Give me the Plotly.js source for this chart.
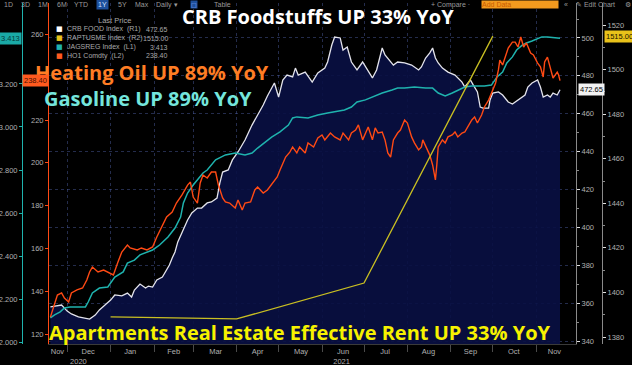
<!DOCTYPE html>
<html><head><meta charset="utf-8">
<script src="https://cdn.plot.ly/plotly-3.0.1.min.js"></script>
<style>html,body{margin:0;padding:0;background:#000;}#chart{width:632px;height:365px;}</style>
</head><body><div id="chart"></div>
<script>
// ---------- DATA ----------
const crbDates = ['2020-11-19','2020-11-23','2020-11-27','2020-12-01','2020-12-04','2020-12-09','2020-12-13','2020-12-17','2020-12-21','2020-12-24','2020-12-28','2021-01-01','2021-01-04','2021-01-09','2021-01-13','2021-01-16','2021-01-18','2021-01-22','2021-01-26','2021-01-28','2021-01-31','2021-02-03','2021-02-07','2021-02-10','2021-02-12','2021-02-14','2021-02-16','2021-02-18','2021-02-21','2021-02-23','2021-02-25','2021-02-28','2021-03-04','2021-03-07','2021-03-11','2021-03-14','2021-03-18','2021-03-20','2021-03-22','2021-03-26','2021-03-29','2021-04-02','2021-04-07','2021-04-12','2021-04-16','2021-04-20','2021-04-23','2021-04-27','2021-04-28','2021-05-01','2021-05-04','2021-05-07','2021-05-11','2021-05-13','2021-05-15','2021-05-20','2021-05-25','2021-05-29','2021-06-03','2021-06-05','2021-06-08','2021-06-10','2021-06-14','2021-06-16','2021-06-19','2021-06-22','2021-06-26','2021-06-30','2021-07-02','2021-07-04','2021-07-07','2021-07-10','2021-07-14','2021-07-16','2021-07-18','2021-07-22','2021-07-25','2021-07-30','2021-08-04','2021-08-09','2021-08-11','2021-08-14','2021-08-17','2021-08-19','2021-08-21','2021-08-23','2021-08-26','2021-08-30','2021-09-04','2021-09-09','2021-09-11','2021-09-15','2021-09-17','2021-09-20','2021-09-22','2021-09-24','2021-09-28','2021-09-29','2021-10-01','2021-10-05','2021-10-08','2021-10-12','2021-10-15','2021-10-19','2021-10-24','2021-10-26','2021-10-29','2021-11-02','2021-11-04','2021-11-06','2021-11-09','2021-11-11','2021-11-13','2021-11-16','2021-11-18'];
const crbValues = [358.0,358.5,359.0,355.8,354.3,352.7,352.1,351.6,353.7,356.4,359.0,361.6,364.3,363.8,365.3,363.2,366.9,370.1,368.0,369.0,368.5,372.2,373.8,377.5,380.1,383.8,387.0,392.3,397.5,401.2,403.9,407.6,410.2,410.2,412.9,413.4,415.5,423.4,429.2,430.3,435.6,439.8,446.1,454.0,459.3,464.6,469.4,475.2,476.2,468.8,477.8,480.4,479.4,484.1,480.4,482.0,476.7,481.5,484.1,487.3,496.3,500.5,500.0,493.6,495.2,487.3,483.1,487.3,484.7,482.0,478.9,483.1,494.7,491.0,489.4,485.7,487.3,486.8,485.7,483.1,484.7,489.4,492.1,494.7,489.4,486.8,484.1,482.0,480.4,476.7,474.1,477.8,475.2,471.5,463.5,463.0,463.0,467.2,470.9,471.5,469.9,466.2,465.1,467.2,469.9,474.1,476.2,477.8,474.1,468.8,469.9,468.8,470.9,469.9,472.65];

const gasDates = ['2020-11-19','2020-11-22','2020-11-26','2020-11-29','2020-12-03','2020-12-09','2020-12-14','2020-12-16','2020-12-19','2020-12-24','2020-12-30','2021-01-04','2021-01-10','2021-01-13','2021-01-18','2021-01-22','2021-01-26','2021-01-31','2021-02-05','2021-02-11','2021-02-16','2021-02-20','2021-02-22','2021-02-25','2021-03-01','2021-03-04','2021-03-08','2021-03-11','2021-03-17','2021-03-24','2021-03-31','2021-04-07','2021-04-12','2021-04-16','2021-04-21','2021-04-26','2021-05-02','2021-05-08','2021-05-11','2021-05-14','2021-05-22','2021-05-29','2021-06-05','2021-06-10','2021-06-17','2021-06-22','2021-06-26','2021-07-02','2021-07-07','2021-07-14','2021-07-21','2021-07-25','2021-07-30','2021-08-06','2021-08-14','2021-08-19','2021-08-23','2021-08-28','2021-09-02','2021-09-06','2021-09-11','2021-09-16','2021-09-20','2021-09-25','2021-09-30','2021-10-04','2021-10-08','2021-10-11','2021-10-15','2021-10-18','2021-10-22','2021-10-25','2021-10-29','2021-11-02','2021-11-05','2021-11-09','2021-11-14','2021-11-18'];
const gasValues = [2.112,2.126,2.140,2.158,2.163,2.163,2.163,2.186,2.228,2.251,2.256,2.302,2.326,2.367,2.381,2.405,2.414,2.428,2.451,2.488,2.530,2.581,2.647,2.693,2.730,2.753,2.786,2.800,2.847,2.870,2.879,2.870,2.879,2.902,2.926,2.953,2.977,3.009,3.042,3.047,3.042,3.056,3.065,3.070,3.079,3.093,3.116,3.126,3.140,3.158,3.172,3.181,3.181,3.186,3.181,3.181,3.158,3.144,3.158,3.172,3.186,3.191,3.191,3.191,3.195,3.233,3.256,3.298,3.326,3.358,3.381,3.391,3.400,3.409,3.419,3.419,3.414,3.413];

const hoDates = ['2020-11-19','2020-11-22','2020-11-24','2020-11-27','2020-11-29','2020-12-02','2020-12-04','2020-12-08','2020-12-12','2020-12-15','2020-12-17','2020-12-19','2020-12-23','2020-12-27','2020-12-30','2021-01-03','2021-01-06','2021-01-09','2021-01-13','2021-01-15','2021-01-20','2021-01-23','2021-01-27','2021-01-31','2021-02-03','2021-02-07','2021-02-10','2021-02-14','2021-02-17','2021-02-21','2021-02-25','2021-02-27','2021-03-01','2021-03-04','2021-03-06','2021-03-08','2021-03-11','2021-03-14','2021-03-17','2021-03-19','2021-03-22','2021-03-24','2021-03-27','2021-03-31','2021-04-02','2021-04-05','2021-04-07','2021-04-11','2021-04-14','2021-04-16','2021-04-20','2021-04-23','2021-04-27','2021-04-30','2021-05-02','2021-05-06','2021-05-09','2021-05-11','2021-05-14','2021-05-16','2021-05-20','2021-05-22','2021-05-26','2021-05-29','2021-06-01','2021-06-03','2021-06-07','2021-06-10','2021-06-14','2021-06-16','2021-06-20','2021-06-22','2021-06-25','2021-06-27','2021-06-30','2021-07-02','2021-07-04','2021-07-07','2021-07-09','2021-07-11','2021-07-14','2021-07-16','2021-07-18','2021-07-20','2021-07-22','2021-07-25','2021-07-27','2021-07-30','2021-08-01','2021-08-04','2021-08-06','2021-08-09','2021-08-11','2021-08-12','2021-08-15','2021-08-17','2021-08-19','2021-08-21','2021-08-22','2021-08-23','2021-08-26','2021-08-28','2021-08-30','2021-09-02','2021-09-04','2021-09-06','2021-09-09','2021-09-11','2021-09-13','2021-09-16','2021-09-18','2021-09-20','2021-09-23','2021-09-25','2021-09-28','2021-09-30','2021-10-03','2021-10-05','2021-10-06','2021-10-08','2021-10-10','2021-10-12','2021-10-15','2021-10-17','2021-10-19','2021-10-21','2021-10-23','2021-10-25','2021-10-28','2021-10-30','2021-11-02','2021-11-04','2021-11-06','2021-11-07','2021-11-09','2021-11-11','2021-11-13','2021-11-16','2021-11-17','2021-11-18'];
const hoValues = [127.9,134.5,138.2,139.2,136.8,135.0,139.2,140.6,141.5,145.2,149.0,151.3,149.0,149.9,149.0,147.6,153.2,158.3,161.6,160.2,159.3,160.2,159.3,160.7,165.3,170.9,174.7,177.0,181.2,185.0,189.6,191.0,184.0,181.2,190.6,194.3,192.9,195.7,195.7,189.6,183.6,181.7,181.2,178.9,182.6,177.9,181.2,181.7,187.3,188.7,185.9,187.3,190.6,193.4,196.6,202.7,205.0,207.4,204.6,207.4,204.6,209.3,207.4,211.6,213.0,210.7,213.9,212.1,210.7,213.9,210.7,213.9,215.3,217.7,210.7,213.9,216.7,210.7,216.3,213.9,214.4,210.7,204.6,202.7,210.7,213.9,215.3,220.0,218.6,212.1,209.3,206.0,207.4,210.7,206.0,203.6,199.0,192.0,199.0,207.4,210.7,209.3,212.1,213.0,214.4,212.1,213.9,214.4,216.7,220.0,221.4,218.6,222.3,226.1,229.3,232.6,237.3,243.4,248.0,245.7,249.4,253.6,256.4,256.4,254.1,258.8,254.1,256.0,251.3,250.4,246.6,244.8,240.1,247.1,249.4,244.8,239.6,242.4,241.0,238.40];

const rentDates = ['2021-01-01','2021-04-01','2021-07-01','2021-10-01'];
const rentValues = [1389.0,1388.1,1404.2,1515.0];

const monthLabels = ['Nov','Dec','Jan','Feb','Mar','Apr','May','Jun','Jul','Aug','Sep','Oct','Nov'];
const monthLabelDates = ['2020-11-24','2020-12-16','2021-01-15','2021-02-15','2021-03-17','2021-04-16','2021-05-17','2021-06-16','2021-07-16','2021-08-16','2021-09-15','2021-10-16','2021-11-14'];
const yearLabels = ['2020','2021'];
const yearLabelDates = ['2020-12-09','2021-06-15'];

const gasTicks = [2.0,2.2,2.4,2.6,2.8,3.0,3.2];
const hoTicks = [120,140,160,180,200,220,260];

const legendNames = ['CRB FOOD Index\u00a0\u00a0(R1)','RAPTUSME Index\u00a0\u00a0(R2)','JAGSREG Index\u00a0\u00a0(L1)','HO1 Comdty\u00a0\u00a0(L2)'];
const legendValues = ['472.65','1515.00','3.413','238.40'];
const toolbarLabels = ['1D','3D','1M','6M','YTD','1Y','5Y','Max','Daily \u25BE','Table'];

// ---------- STYLE ----------
const W=632,H=365,ML=22,MR=30,MT=3,MB=21;
const px = v => (v-ML)/(W-ML-MR);
const py = v => (H-MB-v)/(H-MT-MB);
const cWhite='#e4e4ec', cTeal='#1fb3ae', cOrange='#ff4a14', cYellow='#c9bf22';
const tickFont = {family:'Liberation Sans, Arial', size:7.5, color:'#b0b0b0'};
const grid = 'rgba(90,110,190,0.4)';
const xr = ['2020-11-18','2021-11-29 10:00'];
const dom = [px(49), px(576)];

const traces = [
  {x:crbDates, y:crbValues, type:'scatter', mode:'lines', yaxis:'y', xaxis:'x',
   line:{color:cWhite,width:1.3}, fill:'tozeroy', fillcolor:'rgba(9,16,68,0.9)'},
  {x:gasDates, y:gasValues, type:'scatter', mode:'lines', yaxis:'y2', xaxis:'x',
   line:{color:cTeal,width:1.5}},
  {x:hoDates, y:hoValues, type:'scatter', mode:'lines', yaxis:'y3', xaxis:'x',
   line:{color:cOrange,width:1.4}},
  {x:rentDates, y:rentValues, type:'scatter', mode:'lines', yaxis:'y4', xaxis:'x',
   line:{color:cYellow,width:1.3}}
];

const ann = [];
function A(o){ ann.push(Object.assign({showarrow:false, xref:'paper', yref:'paper', xanchor:'center', yanchor:'middle'}, o)); }
const big = (c)=>({family:'Open Sans', size:20, color:c, weight:700});
A({text:'CRB Foodstuffs UP 33% YoY', x:px(318), y:py(17), font:big('#ffffff')});
A({text:'Heating Oil UP 89% YoY', x:px(152), y:py(72), font:big('#ff7d24')});
A({text:'Gasoline UP 89% YoY', x:px(148), y:py(99), font:big('#74e6dc')});
A({text:'Apartments Real Estate Effective Rent UP 33% YoY', x:px(300), y:py(332), font:big('#f6f200')});

// legend block
const lgFont = {family:'Liberation Sans, Arial', size:7, color:'#a8a8a8'};
const lgColors = ['#ffffff','#e8c21a','#1fb3ae','#ff5a1f'];
A({text:'Last Price', x:px(115), y:py(21), font:{family:'Liberation Sans, Arial', size:7.5, color:'#a8a8a8'}});
legendNames.forEach((n,i)=>{
  const yy = py(29+9*i);
  A({text:'\u25A0', x:px(59.5), y:yy, font:{family:'DejaVu Sans', size:7, color:lgColors[i]}});
  A({text:n, x:px(65), xanchor:'left', y:yy, font:lgFont});
  A({text:legendValues[i], x:px(170), xanchor:'right', y:yy, font:lgFont});
});

// toolbar
const tbX = [8,25,43,62,81,102,122,142,167,222];
const tbFont = {family:'Liberation Sans, Arial', size:7, color:'#9a9a9a'};
toolbarLabels.forEach((t,i)=>{
  const o = {text:t, x:px(tbX[i]), y:py(5), font:tbFont};
  if(t==='1Y'){ o.bgcolor='#1d4f9c'; o.font={...tbFont,color:'#cfe0ff'}; o.borderpad=1; }
  A(o);
});
A({text:'\u25A1', x:px(194), y:py(5), bgcolor:'#1d4f9c', font:{family:'DejaVu Sans',size:6,color:'#8fb4ff'}, borderpad:0});
A({text:'+ Compare \u00b7', x:px(450), y:py(5), font:tbFont});
A({text:'Add Data', x:px(481), xanchor:'left', y:py(4.5), width:76, align:'left', bgcolor:'#f39a1e', font:{family:'Liberation Sans, Arial',size:7,color:'#c85a00'}, borderpad:0});
A({text:'\u00ab', x:px(566), y:py(5), font:tbFont});
A({text:'\u270E Edit Chart', x:px(574), xanchor:'left', y:py(5), font:tbFont});
A({text:'\u2699', x:px(628), y:py(5), font:tbFont});

// last-value badges
const bFont = (c)=>({family:'Liberation Sans, Arial', size:7.5, color:c});
A({text:legendValues[2], x:px(22), xanchor:'right', yref:'y2', y:gasValues[gasValues.length-1], bgcolor:'#1aa9a6', font:bFont('#053a3a'), borderpad:1});
A({text:legendValues[3], x:px(49), xanchor:'right', yref:'y3', y:hoValues[hoValues.length-1], bgcolor:'#ff5a1f', font:bFont('#4a1000'), borderpad:1});
A({text:legendValues[0], x:px(578), xanchor:'left', yref:'y', y:crbValues[crbValues.length-1], bgcolor:'#f2f2f2', font:bFont('#000'), borderpad:1});
A({text:legendValues[1], x:px(604), xanchor:'left', yref:'y4', y:rentValues[rentValues.length-1], bgcolor:'#e9c21a', font:bFont('#1a1400'), borderpad:1});

const yBase = {showgrid:false, zeroline:false, showline:true, ticks:'outside', ticklen:3, tickwidth:1, tickfont:tickFont, fixedrange:true};
const layout = {
  width:W, height:H, margin:{l:ML,r:MR,t:MT,b:MB,pad:0},
  paper_bgcolor:'#000', plot_bgcolor:'#000', showlegend:false,
  xaxis:{type:'date', range:xr, domain:dom, tickmode:'array',
         tickvals:monthLabelDates.concat(yearLabelDates),
         ticktext:monthLabels.concat(yearLabels.map(y=>'\u00a0<br>'+y)),
         ticks:'', tickangle:0, tickfont:tickFont, showgrid:false,
         minor:{tick0:'2020-12-01', dtick:'M1', ticks:'outside', ticklen:7, tickcolor:'#4a4a4a', showgrid:true, gridcolor:grid, griddash:'dot', gridwidth:1},
         showline:true, linecolor:'#3a3a3a', zeroline:false},
  yaxis:Object.assign({}, yBase, {side:'right', anchor:'x', range:[338.42,518.46], tick0:340, dtick:20, tickcolor:'#e0e0e0', linecolor:'#8a8a8a',
         showgrid:true, gridcolor:grid, griddash:'dot', minor:{dtick:10, tick0:340, ticks:'outside', ticklen:2, tickcolor:'#8a8a8a', showgrid:false}}),
  yaxis2:Object.assign({}, yBase, {side:'left', overlaying:'y', anchor:'free', position:0, range:[1.9907,3.5767], tickmode:'array', tickvals:gasTicks, tickformat:'.3f',
         tickcolor:cTeal, linecolor:cTeal}),
  yaxis3:Object.assign({}, yBase, {side:'left', overlaying:'y', anchor:'x', range:[115.33,274.67], tickmode:'array', tickvals:hoTicks,
         tickcolor:cOrange, linecolor:cOrange}),
  yaxis4:Object.assign({}, yBase, {side:'right', overlaying:'y', anchor:'free', position:1, range:[1376.86,1529.87], tick0:1380, dtick:20,
         tickcolor:'#e0e0e0', linecolor:'#8a8a8a', minor:{dtick:10, tick0:1380, ticks:'outside', ticklen:2, tickcolor:'#8a8a8a', showgrid:false}}),
  annotations:ann
};
Plotly.newPlot('chart', traces, layout, {displayModeBar:false, staticPlot:true});
</script>
</body></html>
